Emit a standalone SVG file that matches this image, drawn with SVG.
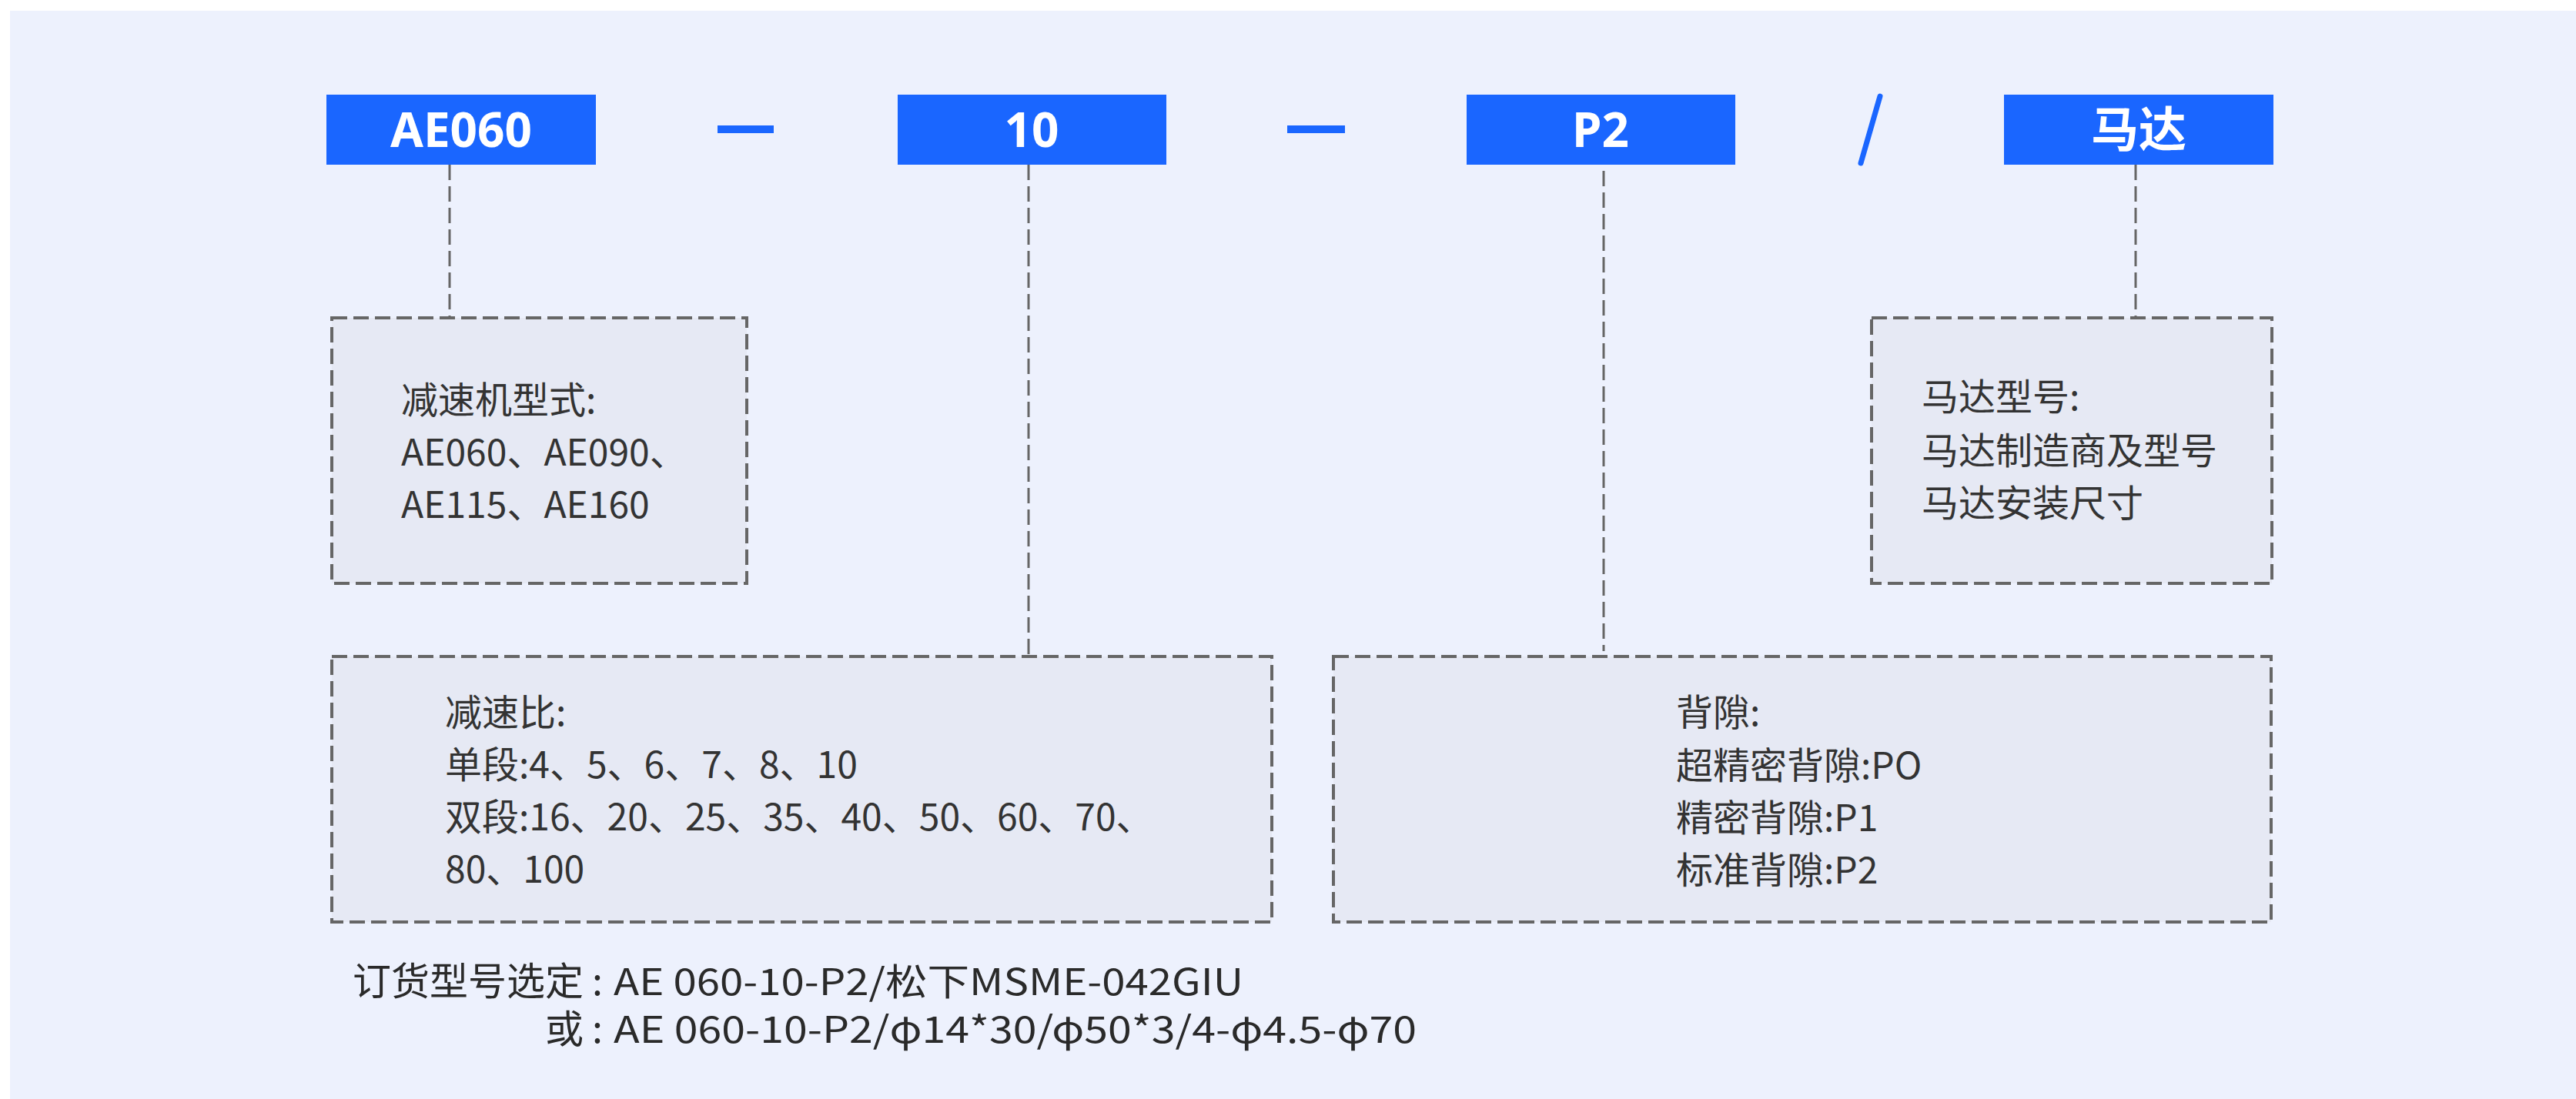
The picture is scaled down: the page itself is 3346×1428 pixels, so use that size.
<svg xmlns="http://www.w3.org/2000/svg" width="3346" height="1428" viewBox="0 0 3346 1428">
<style>
.tag{fill:#1a66ff}
.tagtxt{fill:#ffffff;font-family:"Noto Sans","Noto Sans CJK SC",sans-serif;font-weight:700;font-size:62px;text-anchor:middle}
.box{fill:#e6e9f4;stroke:#666666;stroke-width:4;stroke-dasharray:20 8}
.conn{stroke:#666666;stroke-width:3;stroke-dasharray:20 8;fill:none}
.txt{fill:#333333;font-family:"Noto Sans CJK SC","Noto Sans",sans-serif;font-size:48px}
.ord{fill:#2a2a2a;font-family:"Noto Sans CJK SC","Noto Sans",sans-serif;font-size:48px}
.lbl{fill:#2a2a2a;font-family:"Noto Sans CJK SC","Noto Sans",sans-serif;font-size:50px;text-anchor:end}
</style>
<rect x="0" y="0" width="3346" height="1428" fill="#ffffff"/>
<rect x="13" y="14" width="3333" height="1414" fill="#edf1fd"/>

<g id="connectors">
<line class="conn" x1="584" y1="214" x2="584" y2="413"/>
<line class="conn" x1="1336" y1="214" x2="1336" y2="853"/>
<line class="conn" x1="2083" y1="222" x2="2083" y2="846"/>
<line class="conn" x1="2774" y1="214" x2="2774" y2="413"/>
</g>

<g id="sep1"><rect class="tag" x="932" y="163" width="73" height="10"/></g>
<g id="sep2"><rect class="tag" x="1672" y="163" width="75" height="10"/></g>
<g id="sep3"><line x1="2442" y1="125" x2="2417" y2="212" stroke="#1a66ff" stroke-width="7" stroke-linecap="round"/></g>

<g id="tag-ae060">
<rect class="tag" x="424" y="123" width="350" height="91"/>
<text class="tagtxt" x="599" y="191">AE060</text>
</g>
<g id="tag-10">
<rect class="tag" x="1166" y="123" width="349" height="91"/>
<text class="tagtxt" x="1340" y="191">10</text>
</g>
<g id="tag-p2">
<rect class="tag" x="1905" y="123" width="349" height="91"/>
<text class="tagtxt" x="2079" y="191">P2</text>
</g>
<g id="tag-motor">
<rect class="tag" x="2603" y="123" width="350" height="91"/>
<text class="tagtxt" x="2778" y="191">马达</text>
</g>

<g id="box-model">
<rect class="box" x="431" y="413" width="539" height="345"/>
<text class="txt" x="521" y="537">减速机型式:</text>
<text class="txt" x="521" y="605">AE060、AE090、</text>
<text class="txt" x="521" y="673">AE115、AE160</text>
</g>

<g id="box-motor">
<rect class="box" x="2431" y="413" width="520" height="345"/>
<text class="txt" x="2496" y="533">马达型号:</text>
<text class="txt" x="2496" y="603">马达制造商及型号</text>
<text class="txt" x="2496" y="671">马达安装尺寸</text>
</g>

<g id="box-ratio">
<rect class="box" x="431" y="853" width="1221" height="345"/>
<text class="txt" x="578" y="943">减速比:</text>
<text class="txt" x="578" y="1011">单段:4、5、6、7、8、10</text>
<text class="txt" x="578" y="1079">双段:16、20、25、35、40、50、60、70、</text>
<text class="txt" x="578" y="1147">80、100</text>
</g>

<g id="box-backlash">
<rect class="box" x="1732" y="853" width="1218" height="345"/>
<text class="txt" x="2177" y="943">背隙:</text>
<text class="txt" x="2177" y="1012">超精密背隙:PO</text>
<text class="txt" x="2177" y="1080">精密背隙:P1</text>
<text class="txt" x="2177" y="1148">标准背隙:P2</text>
</g>

<g id="order">
<text class="lbl" x="783" y="1293">订货型号选定 :</text>
<text class="ord" x="797" y="1293" textLength="818" lengthAdjust="spacingAndGlyphs">AE 060-10-P2/松下MSME-042GIU</text>
<text class="lbl" x="783" y="1355">或 :</text>
<text class="ord" x="797" y="1355" textLength="1043" lengthAdjust="spacingAndGlyphs">AE 060-10-P2/φ14*30/φ50*3/4-φ4.5-φ70</text>
</g>
</svg>
